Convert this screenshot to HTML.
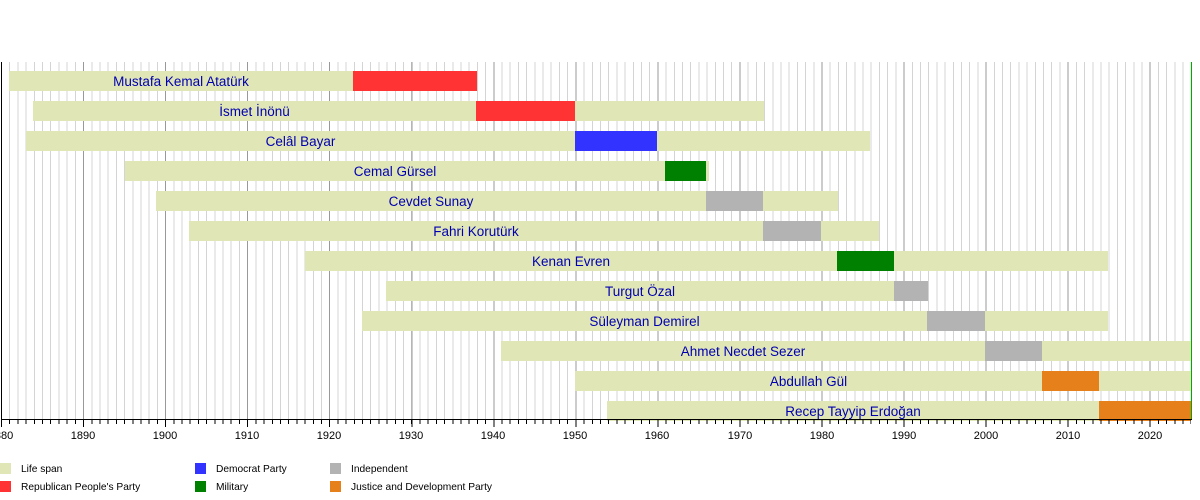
<!DOCTYPE html>
<html><head><meta charset="utf-8"><style>
body{margin:0;width:1200px;height:500px;background:#fff;position:relative;overflow:hidden;font-family:"Liberation Sans",sans-serif}
.grid{position:absolute;left:1px;top:62px;width:1190px;height:358px;
background:repeating-linear-gradient(90deg,#999 0 1px,transparent 1px 82.05px),repeating-linear-gradient(90deg,#d4d4d4 0 1px,transparent 1px 8.205px)}
.ticks{position:absolute;left:1px;top:420px;width:1190px;height:4px;background:repeating-linear-gradient(90deg,#000 0 1px,transparent 1px 8.205px)}
.mticks{position:absolute;left:1px;top:420px;width:1190px;height:7px;background:repeating-linear-gradient(90deg,#000 0 1px,transparent 1px 82.05px)}
.axis{position:absolute;left:1px;top:419px;width:1191px;height:1px;background:#000}
.b{position:absolute;height:20px}
.l{background:#e1e6b7}
.lab{position:absolute;height:20px;line-height:21px;font-size:13.5px;color:#0000b0;text-align:center;white-space:nowrap}
.yr{position:absolute;top:430px;font-size:11px;width:40px;text-align:center;margin-left:-20px}
.lg{position:absolute;width:11px;height:11px}
.lt{position:absolute;font-size:10.2px}
</style></head><body>
<div class="grid"></div>
<div style="position:absolute;left:1px;top:62px;width:1px;height:358px;background:#000"></div>
<div style="position:absolute;left:1191px;top:62px;width:1px;height:358px;background:#0a0"></div>

<div class="b l" style="left:9px;width:344px;top:71px"></div><div class="b" style="left:353px;width:124px;top:71px;background:#ff3333"></div><div class="lab" style="left:9px;width:344px;top:71px">Mustafa Kemal Atatürk</div>
<div class="b l" style="left:33px;width:731px;top:101px"></div><div class="b" style="left:476px;width:99px;top:101px;background:#ff3333"></div><div class="lab" style="left:33px;width:443px;top:101px">İsmet İnönü</div>
<div class="b l" style="left:26px;width:844px;top:131px"></div><div class="b" style="left:575px;width:82px;top:131px;background:#3333ff"></div><div class="lab" style="left:26px;width:549px;top:131px">Celâl Bayar</div>
<div class="b l" style="left:125px;width:584px;top:161px"></div><div class="b" style="left:665px;width:41px;top:161px;background:#008000"></div><div class="lab" style="left:125px;width:540px;top:161px">Cemal Gürsel</div>
<div class="b l" style="left:156px;width:682px;top:191px"></div><div class="b" style="left:706px;width:57px;top:191px;background:#b3b3b3"></div><div class="lab" style="left:156px;width:550px;top:191px">Cevdet Sunay</div>
<div class="b l" style="left:189px;width:690px;top:221px"></div><div class="b" style="left:763px;width:58px;top:221px;background:#b3b3b3"></div><div class="lab" style="left:189px;width:574px;top:221px">Fahri Korutürk</div>
<div class="b l" style="left:305px;width:803px;top:251px"></div><div class="b" style="left:837px;width:57px;top:251px;background:#008000"></div><div class="lab" style="left:305px;width:532px;top:251px">Kenan Evren</div>
<div class="b l" style="left:386px;width:542px;top:281px"></div><div class="b" style="left:894px;width:34px;top:281px;background:#b3b3b3"></div><div class="lab" style="left:386px;width:508px;top:281px">Turgut Özal</div>
<div class="b l" style="left:362px;width:746px;top:311px"></div><div class="b" style="left:927px;width:58px;top:311px;background:#b3b3b3"></div><div class="lab" style="left:362px;width:565px;top:311px">Süleyman Demirel</div>
<div class="b l" style="left:501px;width:690px;top:341px"></div><div class="b" style="left:985px;width:57px;top:341px;background:#b3b3b3"></div><div class="lab" style="left:501px;width:484px;top:341px">Ahmet Necdet Sezer</div>
<div class="b l" style="left:575px;width:616px;top:371px"></div><div class="b" style="left:1042px;width:57px;top:371px;background:#e6801a"></div><div class="lab" style="left:575px;width:467px;top:371px">Abdullah Gül</div>
<div class="b l" style="left:607px;width:584px;top:401px"></div><div class="b" style="left:1099px;width:92px;top:401px;background:#e6801a"></div><div class="lab" style="left:607px;width:492px;top:401px">Recep Tayyip Erdoğan</div>

<div class="axis"></div><div class="ticks"></div><div class="mticks"></div>
<div class="yr" style="left:1px">1880</div>
<div class="yr" style="left:83px">1890</div>
<div class="yr" style="left:165px">1900</div>
<div class="yr" style="left:247px">1910</div>
<div class="yr" style="left:329px">1920</div>
<div class="yr" style="left:411px">1930</div>
<div class="yr" style="left:493px">1940</div>
<div class="yr" style="left:575px">1950</div>
<div class="yr" style="left:657px">1960</div>
<div class="yr" style="left:740px">1970</div>
<div class="yr" style="left:822px">1980</div>
<div class="yr" style="left:904px">1990</div>
<div class="yr" style="left:986px">2000</div>
<div class="yr" style="left:1068px">2010</div>
<div class="yr" style="left:1150px">2020</div>

<div class="lg" style="left:0;top:463px;background:#e1e6b7"></div><div class="lt" style="left:21px;top:464px">Life span</div>
<div class="lg" style="left:0;top:481px;background:#ff3333"></div><div class="lt" style="left:21px;top:482px">Republican People's Party</div>
<div class="lg" style="left:195px;top:463px;background:#3333ff"></div><div class="lt" style="left:216px;top:464px">Democrat Party</div>
<div class="lg" style="left:195px;top:481px;background:#008000"></div><div class="lt" style="left:216px;top:482px">Military</div>
<div class="lg" style="left:330px;top:463px;background:#b3b3b3"></div><div class="lt" style="left:351px;top:464px">Independent</div>
<div class="lg" style="left:330px;top:481px;background:#e6801a"></div><div class="lt" style="left:351px;top:482px">Justice and Development Party</div>
</body></html>
